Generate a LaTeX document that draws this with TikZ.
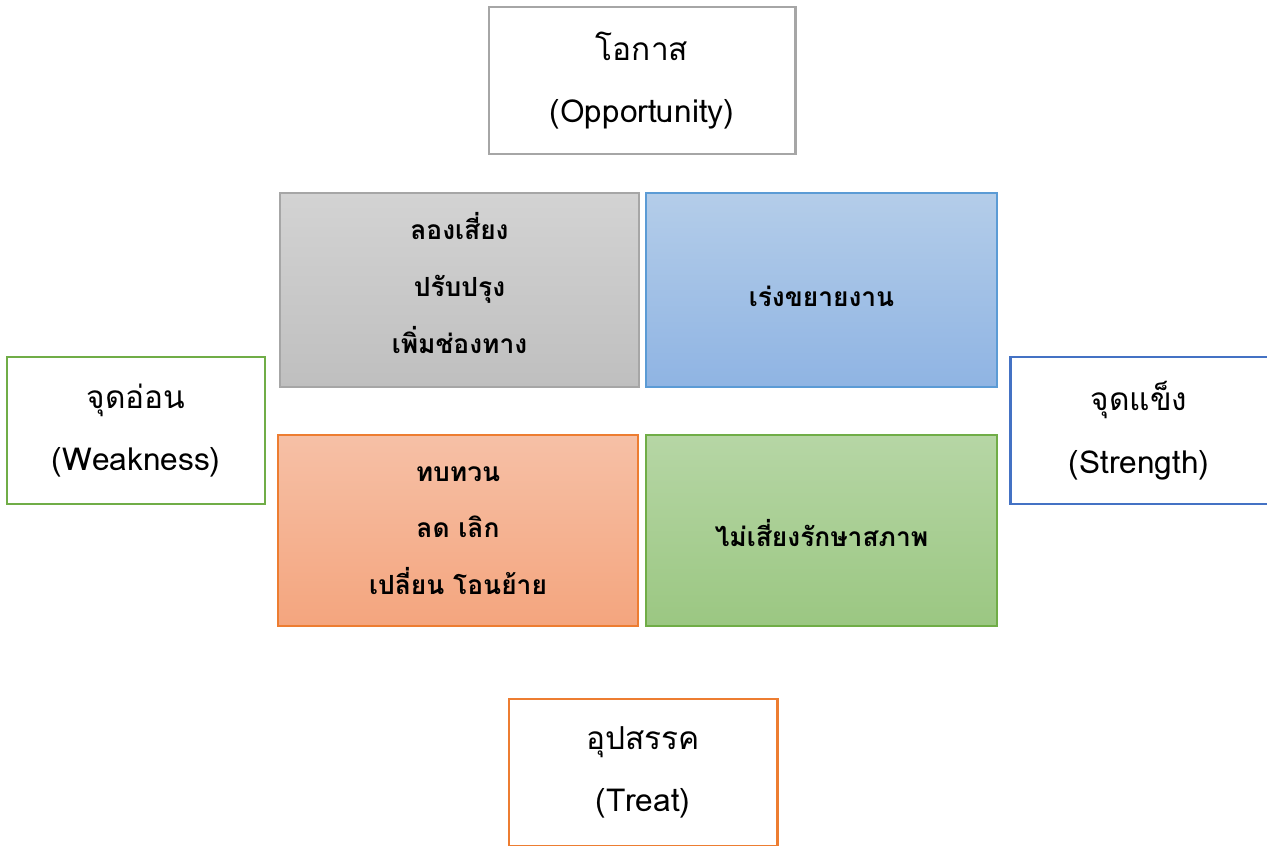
\documentclass[tikz,border=0pt]{standalone}
\usepackage{fontspec}
\setmainfont[Script=Thai]{Loma}
\usetikzlibrary{positioning}

\definecolor{oppgray}{HTML}{A6A6A6}
\definecolor{weakgreen}{HTML}{70AD47}
\definecolor{strblue}{HTML}{4472C4}
\definecolor{treatorange}{HTML}{ED7D31}

\tikzset{
    outerbox/.style={draw, line width=1.7pt, fill=white, align=center, inner sep=0pt,
        minimum width=#1, minimum height=2.94cm, font=\fontsize{18}{35.7}\selectfont},
    innerbox/.style={draw, line width=0.6pt, inner sep=0pt, minimum width=#1},
    boxtext/.style={align=center, inner sep=0pt, font=\bfseries\fontsize{15}{32.3}\selectfont},
}

\begin{document}
\begin{tikzpicture}
    \useasboundingbox (0,0) rectangle (25.34,-16.92);

    % outer boxes
    \node[outerbox=6.12cm, draw=oppgray] (opp) at (12.84,-1.61) {โอกาส\\(Opportunity)};
    \node[outerbox=5.16cm, draw=weakgreen] (weak) at (2.72,-8.61) {จุดอ่อน\\(Weakness)};
    \node[outerbox=5.16cm, draw=strblue] (str) at (22.78,-8.61) {จุดแข็ง\\(Strength)};
    \node[outerbox=5.36cm, draw=treatorange] (treat) at (12.86,-15.45) {อุปสรรค\\(Treat)};

    % inner boxes
    \node[innerbox=7.18cm, minimum height=3.88cm, draw=oppgray, top color={rgb,255:red,211;green,211;blue,211}, bottom color={rgb,255:red,191;green,191;blue,191}] (risk) at (9.19,-5.8) {};
    \node[innerbox=7.02cm, minimum height=3.88cm, draw={rgb,255:red,91;green,155;blue,213}, top color={rgb,255:red,180;green,205;blue,233}, bottom color={rgb,255:red,143;green,180;blue,227}] (grow) at (16.43,-5.8) {};
    \node[innerbox=7.2cm, minimum height=3.82cm, draw=treatorange, top color={rgb,255:red,246;green,192;blue,166}, bottom color={rgb,255:red,244;green,165;blue,126}] (retreat) at (9.16,-10.61) {};
    \node[innerbox=7.02cm, minimum height=3.82cm, draw=weakgreen, top color={rgb,255:red,182;green,214;blue,165}, bottom color={rgb,255:red,155;green,199;blue,130}] (keep) at (16.43,-10.61) {};

    % texts in the inner boxes
    \node[boxtext, yshift=4pt] (risktext) at (risk) {ลองเสี่ยง\\ปรับปรุง\\เพิ่มช่องทาง};
    \node[boxtext, yshift=-3.4pt] (growtext) at (grow) {เร่งขยายงาน};
    \node[boxtext] (retreattext) at (retreat) {ทบทวน\\ลด เลิก\\เปลี่ยน โอนย้าย};
    \node[boxtext, yshift=-1.7pt] (keeptext) at (keep) {ไม่เสี่ยงรักษาสภาพ};
\end{tikzpicture}
\end{document}
